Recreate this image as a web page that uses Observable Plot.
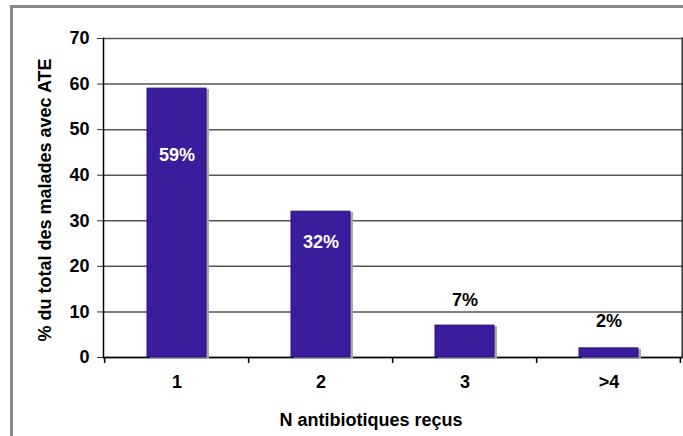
<!DOCTYPE html>
<html><head><meta charset="utf-8">
<script src="https://cdn.jsdelivr.net/npm/d3@7"></script>
<script src="https://cdn.jsdelivr.net/npm/@observablehq/plot@0.6"></script>
<style>
html,body{margin:0;padding:0;background:#fff;}
#wrap{position:relative;width:683px;height:436px;overflow:hidden;}
#frame{position:absolute;left:10px;top:5px;width:700px;height:460px;border-top:3px solid #888;border-left:3px solid #888;box-sizing:border-box;pointer-events:none;}
#chart svg{position:absolute;left:0;top:0;}
</style>
</head><body>
<div id="wrap"><div id="frame"></div><div id="chart"></div></div>
<script>
const categories = ["1", "2", "3", ">4"];
const values = [59, 32, 7, 2];
const labels = ["59%", "32%", "7%", "2%"];
const yTicks = [0, 10, 20, 30, 40, 50, 60, 70];

const data = categories.map((c, i) => ({cat: c, v: values[i], label: labels[i]}));
const labelStyle = [
  {dy: 67, fill: "white"},
  {dy: 31, fill: "white"},
  {dy: -25, fill: "black"},
  {dy: -27, fill: "black"}
];
const W = 683, ML = 103, MR = 1;
const halfStep = (W - ML - MR) / categories.length / 2;
const FS = 18;

const chart = Plot.plot({
  width: W, height: 436,
  marginLeft: ML, marginRight: MR, marginTop: 38, marginBottom: 79,
  style: {fontFamily: "Liberation Sans, Arial, sans-serif", background: "transparent"},
  x: {domain: categories, paddingInner: 0.59, paddingOuter: 0.295, label: null, axis: null},
  y: {domain: [0, 70], label: null, axis: null},
  marks: [
    Plot.ruleY(yTicks, {stroke: "#555", strokeWidth: 1.5}),
    Plot.frame({anchor: "left", stroke: "#000", strokeWidth: 1.5}),
    Plot.frame({anchor: "right", stroke: "#333", strokeWidth: 2}),
    Plot.ruleY([0], {stroke: "#000", strokeWidth: 1.5}),
    Plot.axisY(yTicks, {anchor: "left", tickSize: 6, tickPadding: 8, fontSize: FS, fontWeight: "bold", stroke: "#333", color: "#000", label: null, tickFormat: d => d}),
    Plot.rectY(data, {x: "cat", y: "v", fill: "#a9a6b4", dx: 3, dy: 1}),
    Plot.barY(data, {x: "cat", y: "v", fill: "#3a1c9c", stroke: "#2a1178", strokeWidth: 1}),
    ...data.map((d, i) => Plot.text([d], {x: "cat", y: "v", text: "label", dy: labelStyle[i].dy, fill: labelStyle[i].fill, fontSize: FS, fontWeight: "bold"})),
    Plot.axisX({anchor: "bottom", tickSize: 0, tickPadding: 18, fontSize: FS, fontWeight: "bold", color: "#000", label: null}),
    Plot.axisX({anchor: "bottom", tickSize: 6, text: null, dx: -halfStep, stroke: "#000", strokeWidth: 1.5, label: null}),
    Plot.axisX({anchor: "bottom", ticks: [">4"], tickSize: 6, text: null, dx: halfStep - 1, stroke: "#000", strokeWidth: 1.5, label: null}),
    Plot.text(["% du total des malades avec ATE"], {frameAnchor: "left", textAnchor: "middle", dx: -58, dy: 2, rotate: -90, fontSize: FS, fontWeight: "bold", fill: "#000"}),
    Plot.text(["N antibiotiques reçus"], {frameAnchor: "bottom", dx: -22, dy: 68, fontSize: FS, fontWeight: "bold", fill: "#000"})
  ]
});
document.getElementById("chart").appendChild(chart);
</script>
</body></html>
